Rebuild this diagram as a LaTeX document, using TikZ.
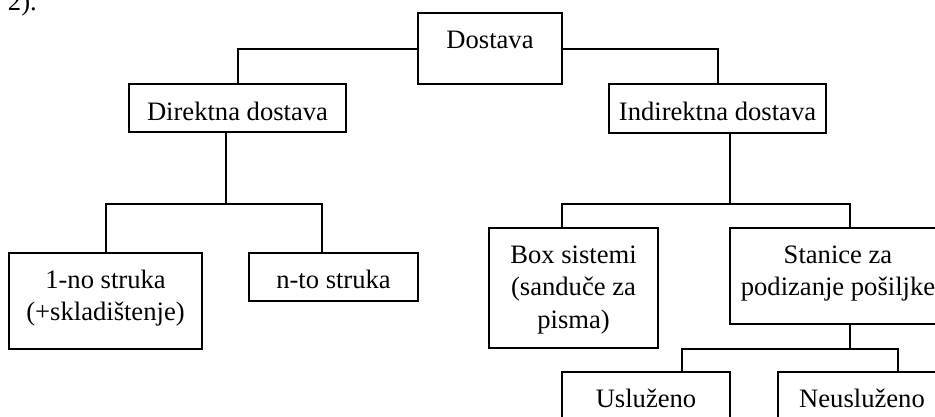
\documentclass[tikz,border=0pt]{standalone}
\usepackage{fontspec}
\setmainfont{Liberation Serif}
\begin{document}
\begin{tikzpicture}[x=1pt,y=-1pt,line width=2pt,
  box/.style={draw, rectangle, inner sep=0pt, outer sep=0pt, anchor=north west},
  lbl/.style={anchor=north, inner sep=0pt, outer sep=0pt, align=center,
              font=\fontsize{26.6}{32.5}\selectfont},
  conn/.style={draw, line width=2pt}]
\useasboundingbox (0,0) rectangle (935,416);
\clip (0,0) rectangle (935,416);

% boxes
\node[box, minimum width=144pt, minimum height=71pt]  (dost) at (418,13)  {};
\node[box, minimum width=217pt, minimum height=48pt]  (dir)  at (129,84)  {};
\node[box, minimum width=217pt, minimum height=49pt]  (ind)  at (609,84)  {};
\node[box, minimum width=193pt, minimum height=96pt]  (one)  at (9,253)   {};
\node[box, minimum width=169pt, minimum height=48pt]  (nto)  at (249,253) {};
\node[box, minimum width=169pt, minimum height=120pt] (boxs) at (489,228) {};
\node[box, minimum width=216pt, minimum height=96pt]  (stan) at (730,228) {};
\node[box, minimum width=168pt, minimum height=70pt]  (usl)  at (562,372) {};
\node[box, minimum width=168pt, minimum height=70pt]  (neu)  at (778,372) {};

% labels
\node[lbl] (dost-t) at ([yshift=-16pt]dost.north) {\rule{0pt}{19pt}Dostava};
\node[lbl] (dir-t)  at ([yshift=-17pt]dir.north)  {\rule{0pt}{19pt}Direktna dostava};
\node[lbl] (ind-t)  at ([yshift=-17pt]ind.north)  {\rule{0pt}{19pt}Indirektna dostava};
\node[lbl] (one-t)  at ([yshift=-16pt]one.north)  {\rule{0pt}{19pt}1-no struka\\(+skladištenje)};
\node[lbl] (nto-t)  at ([yshift=-16pt]nto.north)  {\rule{0pt}{19pt}n-to struka};
\node[lbl] (boxs-t) at ([yshift=-16pt]boxs.north) {\rule{0pt}{19pt}Box sistemi\\(sanduče za\\pisma)};
\node[lbl] (stan-t) at ([yshift=-16pt]stan.north) {\rule{0pt}{19pt}Stanice za\\podizanje pošiljke};
\node[lbl] (usl-t)  at ([yshift=-16pt]usl.north)  {\rule{0pt}{19pt}Usluženo};
\node[lbl] (neu-t)  at ([yshift=-16pt]neu.north)  {\rule{0pt}{19pt}Neusluženo};

\node[anchor=base west, inner sep=0pt, font=\fontsize{26.6}{32.5}\selectfont] (num) at (7,10) {2).};

% junction points
\coordinate (j1) at (226,204);
\coordinate (j2) at (730,204);
\coordinate (j3) at (850,349);

% level 1
\draw[conn] (dost.west) -| (dir.north);
\draw[conn] (dost.east) -| (ind.north);

% Direktna
\draw[conn] (dir.south -| j1) -- (j1);
\draw[conn] (one.north) |- ([xshift=-11.5pt]nto.north |- j1) -- ([xshift=-11.5pt]nto.north);

% Indirektna
\draw[conn] (ind.south -| j2) -- (j2);
\draw[conn] ([xshift=-11.5pt]boxs.north) |- ([xshift=12pt]stan.north |- j2) -- ([xshift=12pt]stan.north);

% Stanice
\draw[conn] ([xshift=12pt]stan.south) -- (j3);
\draw[conn] ([xshift=36pt]usl.north) |- ([xshift=36pt]neu.north |- j3) -- ([xshift=36pt]neu.north);
\end{tikzpicture}
\end{document}
